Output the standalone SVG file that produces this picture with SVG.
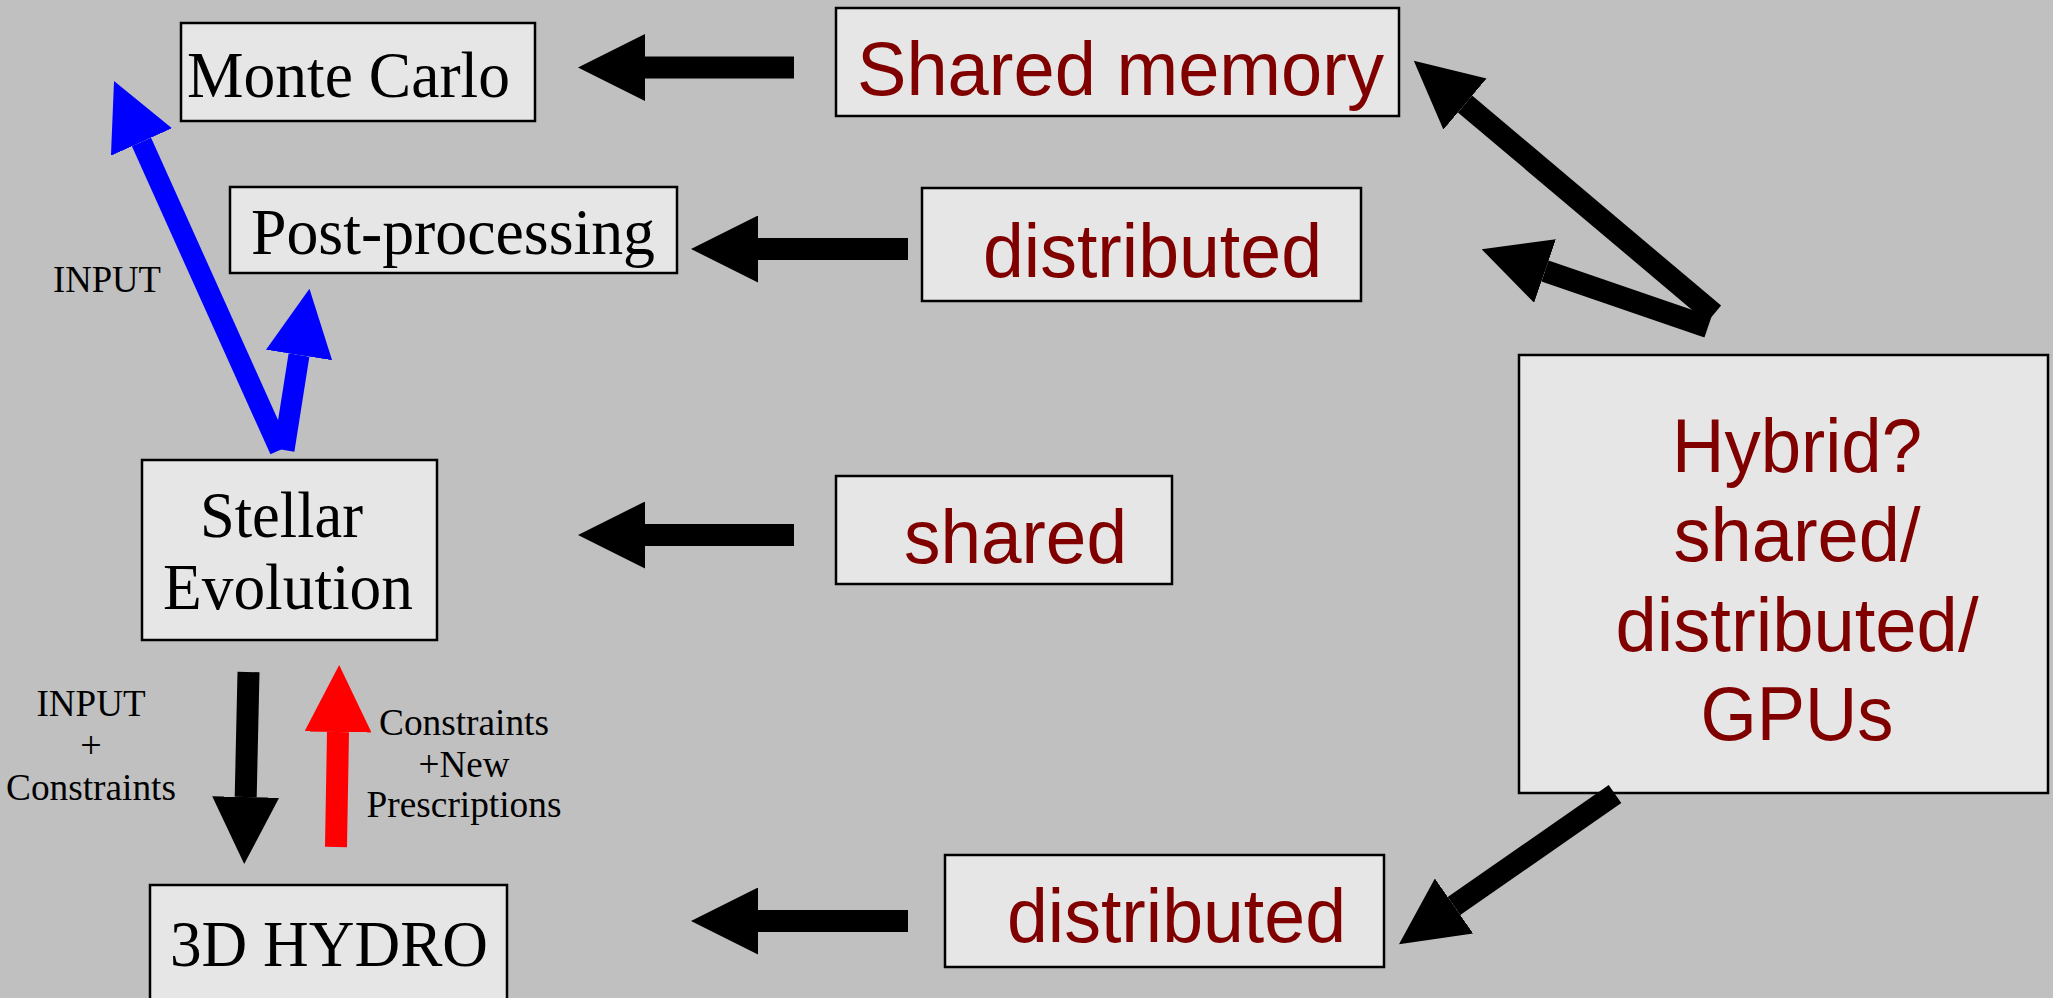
<svg xmlns="http://www.w3.org/2000/svg" width="2053" height="998" viewBox="0 0 2053 998">
<style>
.bx{fill:#e6e6e6;stroke:#000;stroke-width:2.5}
.serif{font-family:"Liberation Serif","Times New Roman",serif;fill:#000}
.big{font-size:66px}
.small{font-size:38px}
.sans{font-family:"Liberation Sans",Arial,sans-serif;fill:#800000;font-size:76px}
.k{stroke:#000;stroke-width:22;fill:none}
.b{stroke:#0000ff;stroke-width:21;fill:none}
.r{stroke:#ff0000;stroke-width:22;fill:none}
</style>
<defs>
<marker id="hk" markerUnits="userSpaceOnUse" viewBox="0 0 67 67" refX="0" refY="33.5" markerWidth="67" markerHeight="67" orient="auto"><path d="M0,0 L67,33.5 L0,67 z" fill="#000"/></marker>
<marker id="hb" markerUnits="userSpaceOnUse" viewBox="0 0 67 67" refX="0" refY="33.5" markerWidth="67" markerHeight="67" orient="auto"><path d="M0,0 L67,33.5 L0,67 z" fill="#0000ff"/></marker>
<marker id="hr" markerUnits="userSpaceOnUse" viewBox="0 0 67 67" refX="0" refY="33.5" markerWidth="67" markerHeight="67" orient="auto"><path d="M0,0 L67,33.5 L0,67 z" fill="#ff0000"/></marker>
</defs>
<rect width="2053" height="998" fill="#c0c0c0"/>

<g id="monte-carlo"><rect class="bx" x="181" y="23" width="354" height="98"/><text class="serif big" x="187" y="97" textLength="323" lengthAdjust="spacingAndGlyphs">Monte Carlo</text></g>
<g id="post-processing"><rect class="bx" x="230" y="187" width="447" height="86"/><text class="serif big" x="251" y="254" textLength="404" lengthAdjust="spacingAndGlyphs">Post-processing</text></g>
<g id="stellar-evolution"><rect class="bx" x="142" y="460" width="295" height="180"/><text class="serif big" x="200" y="537" textLength="163" lengthAdjust="spacingAndGlyphs">Stellar</text><text class="serif big" x="163" y="609" textLength="250" lengthAdjust="spacingAndGlyphs">Evolution</text></g>
<g id="hydro"><rect class="bx" x="150" y="885" width="357" height="130"/><text class="serif big" x="170" y="966" textLength="318" lengthAdjust="spacingAndGlyphs">3D HYDRO</text></g>
<g id="shared-memory"><rect class="bx" x="836" y="8" width="563" height="108"/><text class="sans" x="857" y="95" textLength="527" lengthAdjust="spacingAndGlyphs">Shared memory</text></g>
<g id="distributed-top"><rect class="bx" x="922" y="188" width="439" height="113"/><text class="sans" x="983" y="277" textLength="339" lengthAdjust="spacingAndGlyphs">distributed</text></g>
<g id="shared"><rect class="bx" x="836" y="476" width="336" height="108"/><text class="sans" x="904" y="563" textLength="223" lengthAdjust="spacingAndGlyphs">shared</text></g>
<g id="distributed-bottom"><rect class="bx" x="945" y="855" width="439" height="112"/><text class="sans" x="1007" y="942" textLength="339" lengthAdjust="spacingAndGlyphs">distributed</text></g>
<g id="hybrid"><rect class="bx" x="1519" y="355" width="529" height="438"/>
<text class="sans" text-anchor="middle" x="1797" y="472" textLength="250" lengthAdjust="spacingAndGlyphs">Hybrid?</text>
<text class="sans" text-anchor="middle" x="1797" y="561" textLength="247" lengthAdjust="spacingAndGlyphs">shared/</text>
<text class="sans" text-anchor="middle" x="1797" y="651" textLength="363" lengthAdjust="spacingAndGlyphs">distributed/</text>
<text class="sans" text-anchor="middle" x="1797" y="740" textLength="193" lengthAdjust="spacingAndGlyphs">GPUs</text></g>

<g id="labels">
<text class="serif small" x="53" y="292" textLength="108" lengthAdjust="spacingAndGlyphs">INPUT</text>
<text class="serif small" text-anchor="middle" x="91" y="716" textLength="109" lengthAdjust="spacingAndGlyphs">INPUT</text>
<text class="serif small" text-anchor="middle" x="91" y="758">+</text>
<text class="serif small" text-anchor="middle" x="91" y="800" textLength="170" lengthAdjust="spacingAndGlyphs">Constraints</text>
<text class="serif small" text-anchor="middle" x="464" y="735" textLength="170" lengthAdjust="spacingAndGlyphs">Constraints</text>
<text class="serif small" text-anchor="middle" x="464" y="777" textLength="91" lengthAdjust="spacingAndGlyphs">+New</text>
<text class="serif small" text-anchor="middle" x="464" y="817" textLength="195" lengthAdjust="spacingAndGlyphs">Prescriptions</text>
</g>

<g id="connectors">
<line class="k" x1="794" y1="67.5" x2="645" y2="67.5" marker-end="url(#hk)"/>
<line class="k" x1="908" y1="249" x2="758" y2="249" marker-end="url(#hk)"/>
<line class="k" x1="794" y1="535" x2="645" y2="535" marker-end="url(#hk)"/>
<line class="k" x1="908" y1="921" x2="758" y2="921" marker-end="url(#hk)"/>
<line class="k" x1="1714" y1="314" x2="1465" y2="104" marker-end="url(#hk)"/>
<line class="k" x1="1708" y1="327" x2="1545" y2="271" marker-end="url(#hk)"/>
<line class="k" x1="1615" y1="794" x2="1454" y2="906" marker-end="url(#hk)"/>
<line class="b" x1="280" y1="450" x2="141.5" y2="142" marker-end="url(#hb)"/>
<line class="b" x1="284" y1="450" x2="299" y2="355" marker-end="url(#hb)"/>
<line class="k" x1="248.5" y1="672" x2="245.7" y2="797" marker-end="url(#hk)"/>
<line class="r" x1="336" y1="847" x2="338" y2="732" marker-end="url(#hr)"/>
</g>
</svg>
